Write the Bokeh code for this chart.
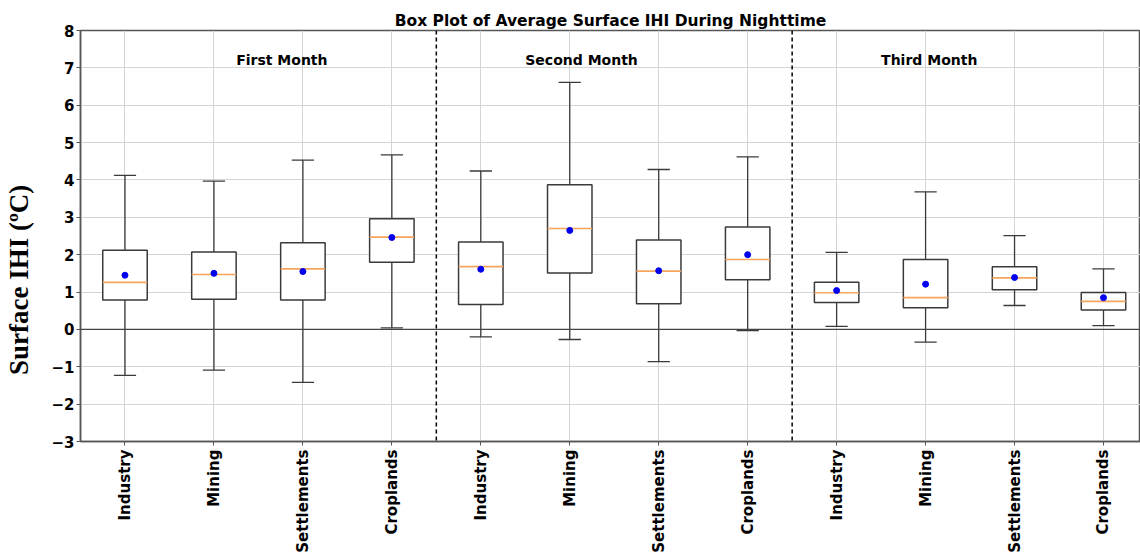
import math
from bokeh.plotting import figure
from bokeh.models import FixedTicker, CustomJSTickFormatter, Span, ColumnDataSource
from bokeh.transform import dodge
from bokeh.core.properties import value
from bokeh.embed import file_html
from bokeh.resources import INLINE

# ---- data ----
categories = ["Industry", "Mining", "Settlements", "Croplands"] * 3
positions = list(range(1, 13))
whisker_low = [-1.23, -1.09, -1.42, 0.04, -0.20, -0.27, -0.86, -0.03, 0.08, -0.34, 0.64, 0.10]
q1 = [0.79, 0.81, 0.79, 1.80, 0.67, 1.51, 0.69, 1.33, 0.72, 0.58, 1.06, 0.52]
median = [1.26, 1.47, 1.62, 2.47, 1.68, 2.70, 1.56, 1.87, 0.98, 0.85, 1.38, 0.75]
q3 = [2.12, 2.07, 2.32, 2.96, 2.34, 3.87, 2.39, 2.74, 1.26, 1.87, 1.68, 0.99]
whisker_high = [4.12, 3.97, 4.53, 4.67, 4.24, 6.61, 4.28, 4.62, 2.06, 3.68, 2.51, 1.62]
mean = [1.45, 1.50, 1.55, 2.46, 1.61, 2.65, 1.57, 2.00, 1.04, 1.21, 1.39, 0.85]
month_labels = ["First Month", "Second Month", "Third Month"]
month_label_x = [2.25, 5.5, 9.5]
month_label_y = [7.0, 7.0, 7.0]
month_dividers = [4.5, 8.5]
y_ticks = list(range(-3, 9))

title = "Box Plot of Average Surface IHI During Nighttime"
ylabel = "Surface IHI (\u00baC)"

BOX_W = 0.5
CAP_W = 0.25
EDGE = "#3a3a3a"

p = figure(width=1140, height=555, x_range=(0.5, 12.416), y_range=(-3, 8),
           output_backend="svg", toolbar_location=None, title=title,
           min_border_left=80, min_border_right=0, min_border_top=30,
           min_border_bottom=113)
p.title.align = "center"
p.title.text_font = "DejaVu Sans"
p.title.text_font_size = "15.5px"
p.title.text_font_style = "bold"
p.title.text_color = "black"
p.title.standoff = 2
p.title.offset = 0

p.outline_line_color = "#555555"
p.outline_line_width = 1.5
p.background_fill_color = "white"
p.border_fill_color = "white"

# axes
p.xaxis.ticker = FixedTicker(ticks=positions)
p.xaxis.major_label_overrides = {pos: c for pos, c in zip(positions, categories)}
p.xaxis.major_label_orientation = math.pi / 2
p.yaxis.ticker = FixedTicker(ticks=y_ticks)
p.yaxis.formatter = CustomJSTickFormatter(code="return tick < 0 ? '\\u2212' + (-tick) : '' + tick;")
for ax in (p.xaxis, p.yaxis):
    ax.major_label_text_font = "DejaVu Sans"
    ax.major_label_text_font_style = "bold"
    ax.major_label_text_font_size = "15px"
    ax.major_label_text_color = "black"
    ax.axis_line_color = "#555555"
    ax.axis_line_width = 1.5
    ax.major_tick_line_color = "#555555"
    ax.major_tick_in = 0
    ax.major_tick_out = 4
    ax.minor_tick_line_color = None
p.xaxis.major_label_standoff = 4
p.yaxis.major_label_standoff = 2

# y axis label: padded at its end so that it sits lower, as in the reference
p.yaxis.axis_label = ylabel + "\u00a0" * 13
p.yaxis.axis_label_text_font = "Liberation Serif"
p.yaxis.axis_label_text_font_style = "bold"
p.yaxis.axis_label_text_font_size = "27px"
p.yaxis.axis_label_text_color = "black"
p.yaxis.axis_label_standoff = 14

p.xgrid.ticker = FixedTicker(ticks=positions)
p.ygrid.ticker = FixedTicker(ticks=y_ticks)
p.grid.grid_line_color = "#d4d4d4"
p.grid.grid_line_width = 1

src = ColumnDataSource(dict(x=positions, lo=whisker_low, q1=q1, med=median,
                            q3=q3, hi=whisker_high, mean=mean))

# zero line and month dividers
p.add_layout(Span(location=0, dimension="width", line_color="#444444", line_width=1.3))
for d in month_dividers:
    p.add_layout(Span(location=d, dimension="height", line_color="black",
                      line_width=1.5, line_dash="4 3"))

# whiskers
p.segment(x0="x", y0="q3", x1="x", y1="hi", source=src, line_color=EDGE, line_width=1.3)
p.segment(x0="x", y0="lo", x1="x", y1="q1", source=src, line_color=EDGE, line_width=1.3)
# caps
p.segment(x0=dodge("x", -CAP_W / 2), y0="hi", x1=dodge("x", CAP_W / 2), y1="hi",
          source=src, line_color=EDGE, line_width=1.3)
p.segment(x0=dodge("x", -CAP_W / 2), y0="lo", x1=dodge("x", CAP_W / 2), y1="lo",
          source=src, line_color=EDGE, line_width=1.3)
# boxes
p.vbar(x="x", bottom="q1", top="q3", width=BOX_W, source=src, fill_color="white",
       line_color=EDGE, line_width=1.5)
# medians
p.segment(x0=dodge("x", -BOX_W / 2), y0="med", x1=dodge("x", BOX_W / 2), y1="med",
          source=src, line_color="#f7a55e", line_width=1.6)
# means
p.scatter(x="x", y="mean", source=src, size=6, fill_color="#0000ee", line_color="#0000ee")

# month labels
p.text(x=month_label_x, y=month_label_y, text=month_labels, text_font=value("DejaVu Sans"),
       text_font_style="bold", text_font_size="14px", text_align="left",
       text_baseline="bottom", text_color="black")

open("out.html", "w").write(file_html(p, INLINE))
